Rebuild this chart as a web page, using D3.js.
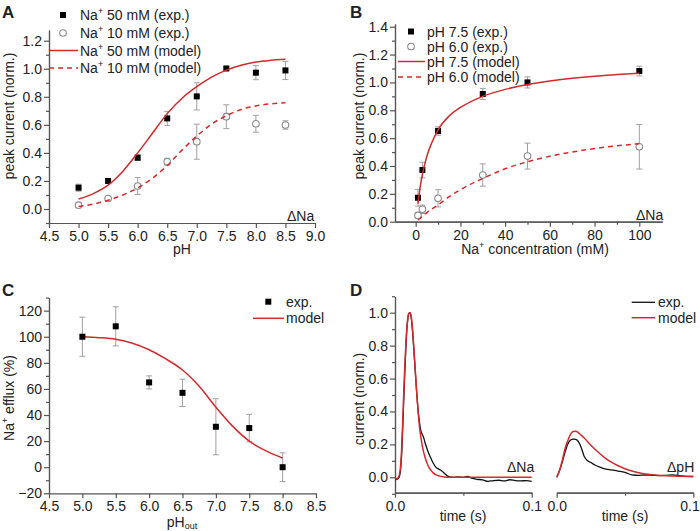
<!DOCTYPE html>
<html><head><meta charset="utf-8">
<script src="https://cdn.jsdelivr.net/npm/d3@7"></script>
<style>
body{margin:0;background:#fff}
svg{display:block}
text{font-family:"Liberation Sans",Arial,sans-serif;fill:#222}
</style>
</head><body>
<svg id="c" width="700" height="531"></svg>
<script>
// ---------- Panel A data ----------
const pHA = [5.0,5.5,6.0,6.5,7.0,7.5,8.0,8.5];
const na50Exp = [0.152,0.200,0.366,0.646,0.803,1.002,0.972,0.988];
const na50Err = [0.025,0.015,0.020,0.050,0.097,0.010,0.050,0.065];
const na10Exp = [0.027,0.075,0.164,0.337,0.480,0.658,0.608,0.599];
const na10Err = [0.015,0.015,0.060,0.025,0.125,0.085,0.060,0.030];
const pHModelA = [5.0,5.25,5.5,5.75,6.0,6.25,6.5,6.75,7.0,7.25,7.5,7.75,8.0,8.25,8.5];
const na50Model = [0.071,0.11,0.17,0.27,0.40,0.54,0.68,0.79,0.872,0.94,0.99,1.025,1.048,1.06,1.067];
const na10Model = [0.018,0.035,0.062,0.10,0.15,0.22,0.31,0.42,0.52,0.605,0.665,0.71,0.735,0.75,0.758];
const ticksA_x = [4.5,5.0,5.5,6.0,6.5,7.0,7.5,8.0,8.5,9.0];
const ticksA_y = [0.0,0.2,0.4,0.6,0.8,1.0,1.2];
const legendA = ["50 mM (exp.)","10 mM (exp.)","50 mM (model)","10 mM (model)"];

// ---------- Panel B data ----------
const naConc = [1,3,10,30,50,100];
const pH75Exp = [0.172,0.371,0.651,0.917,1.000,1.082];
const pH75Err = [0.060,0.056,0.030,0.040,0.040,0.035];
const pH60Exp = [0.045,0.089,0.168,0.335,0.471,0.538];
const pH60Err = [0.020,0.030,0.062,0.080,0.093,0.160];
const concModel = [1,2,3,5,7,10,15,20,30,40,50,60,70,80,90,100];
const pH75Model = [0.13,0.25,0.34,0.47,0.56,0.66,0.76,0.82,0.90,0.95,0.985,1.01,1.03,1.045,1.056,1.066];
const pH60Model = [0.012,0.025,0.04,0.065,0.088,0.12,0.18,0.23,0.31,0.38,0.43,0.47,0.50,0.525,0.545,0.56];
const ticksB_x = [0,20,40,60,80,100];
const ticksB_y = [0.0,0.2,0.4,0.6,0.8,1.0,1.2,1.4];
const legendB = ["pH 7.5 (exp.)","pH 6.0 (exp.)","pH 7.5 (model)","pH 6.0 (model)"];

// ---------- Panel C data ----------
const pHC = [5.0,5.5,6.0,6.5,7.0,7.5,8.0];
const effluxExp = [100,108,65,57,31,30,0];
const effluxErr = [15,15,5,10.5,21.5,10.5,11];
const pHModelC = [5.0,5.25,5.5,5.75,6.0,6.25,6.5,6.75,7.0,7.25,7.5,7.75,8.0];
const effluxModel = [100,99.3,98,95,90,83,74.5,62,46,31.5,20,12.5,7];
const ticksC_x = [4.5,5.0,5.5,6.0,6.5,7.0,7.5,8.0,8.5];
const ticksC_y = [-20,0,20,40,60,80,100,120];
const legendC = ["exp.","model"];

// ---------- Panel D data ----------
const tNaModel = [0,0.002,0.003,0.004,0.005,0.006,0.007,0.008,0.009,0.010,0.011,0.012,0.013,0.014,0.015,0.016,0.017,0.018,0.019,0.020,0.022,0.024,0.026,0.028,0.030,0.033,0.036,0.040,0.070,0.100];
const iNaModel = [-0.01,-0.006,0.01,0.06,0.20,0.42,0.64,0.82,0.94,0.995,1.0,0.97,0.88,0.76,0.63,0.50,0.39,0.30,0.24,0.19,0.12,0.075,0.045,0.027,0.015,0.007,0.002,0.0,0.0,0.0];
const tNaExp = [0,0.002,0.003,0.004,0.005,0.006,0.007,0.008,0.009,0.010,0.011,0.012,0.013,0.014,0.015,0.016,0.017,0.018,0.019,0.020,0.021,0.022,0.024,0.026,0.028,0.030,0.032,0.034,0.036,0.038,0.040,0.043,0.046,0.050,0.053,0.056,0.060,0.064,0.068,0.072,0.076,0.080,0.084,0.088,0.092,0.096,0.100];
const iNaExp = [-0.015,-0.01,0.0,0.04,0.16,0.38,0.60,0.80,0.93,0.99,1.0,0.96,0.87,0.75,0.62,0.50,0.40,0.33,0.28,0.26,0.24,0.21,0.16,0.12,0.085,0.06,0.05,0.04,0.025,0.01,0.002,0.0,0.003,0.0,0.005,-0.005,-0.012,-0.015,-0.025,-0.02,-0.018,-0.022,-0.015,-0.02,-0.022,-0.02,-0.025];
const tPHModel = [0,0.002,0.004,0.006,0.008,0.010,0.012,0.014,0.016,0.018,0.020,0.025,0.030,0.035,0.040,0.045,0.050,0.055,0.060,0.065,0.070,0.080,0.090,0.100];
const iPHModel = [0.0,0.04,0.10,0.17,0.22,0.26,0.278,0.28,0.27,0.255,0.24,0.195,0.155,0.12,0.092,0.07,0.052,0.038,0.028,0.02,0.015,0.009,0.006,0.005];
const tPHExp = [0,0.002,0.004,0.006,0.008,0.010,0.012,0.014,0.016,0.018,0.020,0.022,0.025,0.028,0.032,0.036,0.040,0.045,0.050,0.055,0.060,0.065,0.070,0.075,0.080,0.085,0.090,0.095,0.100];
const iPHExp = [0.0,0.04,0.09,0.15,0.20,0.225,0.232,0.23,0.215,0.18,0.13,0.105,0.09,0.075,0.06,0.05,0.045,0.038,0.03,0.015,0.012,0.014,0.012,0.01,0.012,0.015,0.01,0.006,0.005];
const ticksD_x = [0.0,0.1];
const ticksD_y = [0.0,0.2,0.4,0.6,0.8,1.0];
const legendD = ["exp.","model"];

// ---------- drawing ----------
const svg = d3.select("#c");
const RED = "#d42a2c";
const AX = "#555";
const GRAY = "#8a8a8a";
const EBAR = "#a0a0a0";

function styleAxis(g){
  g.selectAll(".domain").attr("stroke",AX).attr("stroke-width",1.2);
  g.selectAll(".tick line").attr("stroke",AX).attr("stroke-width",1.2);
  g.selectAll(".tick text").attr("font-size",14).attr("fill","#222")
    .attr("font-family","Liberation Sans, Arial, sans-serif");
}
function yAxis(x, scale, major, minor, fmt){
  const g1 = svg.append("g").attr("transform",`translate(${x},0)`)
    .call(d3.axisLeft(scale).tickValues(minor).tickSize(3).tickFormat("").tickSizeOuter(0));
  styleAxis(g1);
  const g2 = svg.append("g").attr("transform",`translate(${x},0)`)
    .call(d3.axisLeft(scale).tickValues(major).tickSize(5).tickPadding(2).tickFormat(fmt).tickSizeOuter(0));
  styleAxis(g2);
}
function xAxis(y, scale, major, minor, fmt){
  if(minor.length){
    const g1 = svg.append("g").attr("transform",`translate(0,${y})`)
      .call(d3.axisBottom(scale).tickValues(minor).tickSize(3).tickFormat("").tickSizeOuter(0));
    styleAxis(g1);
  }
  const g2 = svg.append("g").attr("transform",`translate(0,${y})`)
    .call(d3.axisBottom(scale).tickValues(major).tickSize(5).tickPadding(3).tickFormat(fmt).tickSizeOuter(0));
  styleAxis(g2);
  return g2;
}
function errBars(xs, ys, es, x, y){
  const g = svg.append("g").attr("stroke",EBAR).attr("stroke-width",1);
  xs.forEach((v,i)=>{
    const cx = x(v), y1 = y(ys[i]-es[i]), y2 = y(ys[i]+es[i]);
    g.append("line").attr("x1",cx).attr("x2",cx).attr("y1",y1).attr("y2",y2);
    g.append("line").attr("x1",cx-3).attr("x2",cx+3).attr("y1",y1).attr("y2",y1);
    g.append("line").attr("x1",cx-3).attr("x2",cx+3).attr("y1",y2).attr("y2",y2);
  });
}
function squares(xs, ys, x, y){
  svg.append("g").selectAll("rect").data(xs).join("rect")
    .attr("x",(d)=>x(d)-3).attr("y",(d,i)=>y(ys[i])-3).attr("width",6).attr("height",6).attr("fill","#000");
}
function circles(xs, ys, x, y){
  svg.append("g").selectAll("circle").data(xs).join("circle")
    .attr("cx",d=>x(d)).attr("cy",(d,i)=>y(ys[i])).attr("r",3.3)
    .attr("fill","#fff").attr("stroke",GRAY).attr("stroke-width",1.1);
}
function curve(xs, ys, x, y, color, dash, w){
  const line = d3.line().x(d=>x(d[0])).y(d=>y(d[1])).curve(d3.curveMonotoneX);
  svg.append("path").datum(xs.map((v,i)=>[v,ys[i]])).attr("d",line)
    .attr("fill","none").attr("stroke",color).attr("stroke-width",w||1.5)
    .attr("stroke-dasharray",dash||null).attr("stroke-linejoin","round");
}
function label(x,y,txt,opts){
  opts = opts||{};
  const t = svg.append("text").attr("x",x).attr("y",y).attr("font-size",opts.size||14)
    .attr("text-anchor",opts.anchor||"start").attr("font-weight",opts.weight||"normal");
  if(opts.rot) t.attr("transform",`rotate(-90,${x},${y})`);
  return t;
}
function naText(t, rest){
  t.append("tspan").text("Na");
  t.append("tspan").text("+").attr("font-size",9).attr("dy",-6);
  t.append("tspan").text(rest).attr("dy",6);
}
const f1 = d3.format(".1f");

// ===== Panel A =====
{
  const x = d3.scaleLinear().domain([4.5,9.0]).range([49,315]);
  const y = d3.scaleLinear().domain([0,1.2]).range([209,40.7]);
  const yb = 223, yt = y(1.276);
  const ys = d3.scaleLinear().domain([y.invert(yb), 1.276]).range([yb, yt]);
  yAxis(49, ys, ticksA_y, d3.range(-0.1,1.25,0.1).map(v=>+v.toFixed(1)).filter(v=>ticksA_y.indexOf(v)<0), f1);
  xAxis(yb, x, ticksA_x, [], f1);
  errBars(pHA, na50Exp, na50Err, x, y);
  errBars(pHA, na10Exp, na10Err, x, y);
  squares(pHA, na50Exp, x, y);
  circles(pHA, na10Exp, x, y);
  curve(pHModelA, na50Model, x, y, RED);
  curve(pHModelA, na10Model, x, y, RED, "5,4");
  label(2,18,"A",{size:17,weight:"bold"}).text("A");
  label(287,221,"").text("ΔNa");
  label(182,254,"",{anchor:"middle"}).text("pH");
  label(14,116,"",{anchor:"middle",rot:true}).text("peak current (norm.)");
  // legend
  const rows = [15,33,50.5,68];
  svg.append("rect").attr("x",60).attr("y",rows[0]-3).attr("width",6).attr("height",6).attr("fill","#000");
  svg.append("circle").attr("cx",63).attr("cy",rows[1]).attr("r",3.3).attr("fill","#fff").attr("stroke",GRAY).attr("stroke-width",1.1);
  svg.append("line").attr("x1",49).attr("x2",78).attr("y1",rows[2]).attr("y2",rows[2]).attr("stroke",RED).attr("stroke-width",1.5);
  svg.append("line").attr("x1",49).attr("x2",78).attr("y1",rows[3]).attr("y2",rows[3]).attr("stroke",RED).attr("stroke-width",1.5).attr("stroke-dasharray","5,4");
  legendA.forEach((s,i)=>{ naText(label(80,rows[i]+5,""), " "+s); });
}

// ===== Panel B =====
{
  const x = d3.scaleLinear().domain([0,100]).range([415.7,639.3]);
  const y = d3.scaleLinear().domain([0,1.4]).range([221.7,26.7]);
  const xs = d3.scaleLinear().domain([x.invert(395), x.invert(662.3)]).range([395,662.3]);
  const ys = d3.scaleLinear().domain([0, y.invert(24)]).range([221.7,24]);
  yAxis(395, ys, ticksB_y, [0.1,0.3,0.5,0.7,0.9,1.1,1.3], f1);
  xAxis(221.7, xs, ticksB_x, [10,30,50,70,90], d3.format("d"));
  errBars(naConc, pH75Exp, pH75Err, x, y);
  errBars(naConc, pH60Exp, pH60Err, x, y);
  squares(naConc, pH75Exp, x, y);
  circles(naConc, pH60Exp, x, y);
  curve(concModel, pH75Model, x, y, RED);
  curve(concModel, pH60Model, x, y, RED, "5,4");
  label(350,18,"",{size:17,weight:"bold"}).text("B");
  label(636,220,"").text("ΔNa");
  const t = label(535,254,"",{anchor:"middle"});
  naText(t," concentration (mM)");
  label(364,116,"",{anchor:"middle",rot:true}).text("peak current (norm.)");
  const rows = [31.5,46.5,61.5,77];
  svg.append("rect").attr("x",408).attr("y",rows[0]-3).attr("width",6).attr("height",6).attr("fill","#000");
  svg.append("circle").attr("cx",411).attr("cy",rows[1]).attr("r",3.3).attr("fill","#fff").attr("stroke",GRAY).attr("stroke-width",1.1);
  svg.append("line").attr("x1",398).attr("x2",425).attr("y1",rows[2]).attr("y2",rows[2]).attr("stroke",RED).attr("stroke-width",1.5);
  svg.append("line").attr("x1",398).attr("x2",425).attr("y1",rows[3]).attr("y2",rows[3]).attr("stroke",RED).attr("stroke-width",1.5).attr("stroke-dasharray","5,4");
  legendB.forEach((s,i)=>{ label(427,rows[i]+5,"").text(s); });
}

// ===== Panel C =====
{
  const x = d3.scaleLinear().domain([4.5,8.5]).range([49,316]);
  const y = d3.scaleLinear().domain([-20,130]).range([493.3,297.6]);
  yAxis(49, y, ticksC_y, [-10,10,30,50,70,90,110,130], d3.format("d"));
  xAxis(493.3, x, ticksC_x, [], f1);
  errBars(pHC, effluxExp, effluxErr, x, y);
  curve(pHModelC, effluxModel, x, y, RED);
  squares(pHC, effluxExp, x, y);
  label(2,296,"",{size:17,weight:"bold"}).text("C");
  const t = label(182,527,"",{anchor:"middle"});
  t.append("tspan").text("pH");
  t.append("tspan").text("out").attr("font-size",9).attr("dy",2);
  const t2 = label(14,398,"",{anchor:"middle",rot:true});
  naText(t2," efflux (%)");
  svg.append("rect").attr("x",265.3).attr("y",298.7).attr("width",6).attr("height",6).attr("fill","#000");
  svg.append("line").attr("x1",253).attr("x2",284).attr("y1",318.3).attr("y2",318.3).attr("stroke",RED).attr("stroke-width",1.5);
  label(286,306.5,"").text(legendC[0]);
  label(286,323,"").text(legendC[1]);
}

// ===== Panel D =====
{
  const y = d3.scaleLinear().domain([0,1.0]).range([477.3,312.7]);
  const ys = d3.scaleLinear().domain([y.invert(492.7), y.invert(296.5)]).range([492.7,296.5]);
  const x1 = d3.scaleLinear().domain([0,0.1]).range([395,531.7]);
  const x2 = d3.scaleLinear().domain([0,0.1]).range([556.7,693.3]);
  yAxis(395, ys, ticksD_y, [-0.1,0.1,0.3,0.5,0.7,0.9,1.1], f1);
  xAxis(492.7, x1, ticksD_x, [0.05], f1);
  const gR = xAxis(492.7, x2, ticksD_x, [0.05], f1);
  // keep the last label of the right sub-axis inside the picture
  gR.selectAll(".tick text").filter(d=>d===0.1).attr("text-anchor","end").attr("x",6);
  curve(tNaExp, iNaExp, x1, y, "#111", null, 1.3);
  curve(tNaModel, iNaModel, x1, y, RED, null, 1.5);
  curve(tPHExp, iPHExp, x2, y, "#111", null, 1.3);
  curve(tPHModel, iPHModel, x2, y, RED, null, 1.5);
  label(350,296,"",{size:17,weight:"bold"}).text("D");
  label(507,472,"").text("ΔNa");
  label(667,472,"").text("ΔpH");
  label(463,521,"",{anchor:"middle"}).text("time (s)");
  label(625,521,"",{anchor:"middle"}).text("time (s)");
  label(364,399,"",{anchor:"middle",rot:true}).text("current (norm.)");
  svg.append("line").attr("x1",631.7).attr("x2",655).attr("y1",302.3).attr("y2",302.3).attr("stroke","#111").attr("stroke-width",1.3);
  svg.append("line").attr("x1",631.7).attr("x2",655).attr("y1",317.7).attr("y2",317.7).attr("stroke",RED).attr("stroke-width",1.5);
  label(658,307,"").text(legendD[0]);
  label(658,322.5,"").text(legendD[1]);
}
</script>
</body></html>
